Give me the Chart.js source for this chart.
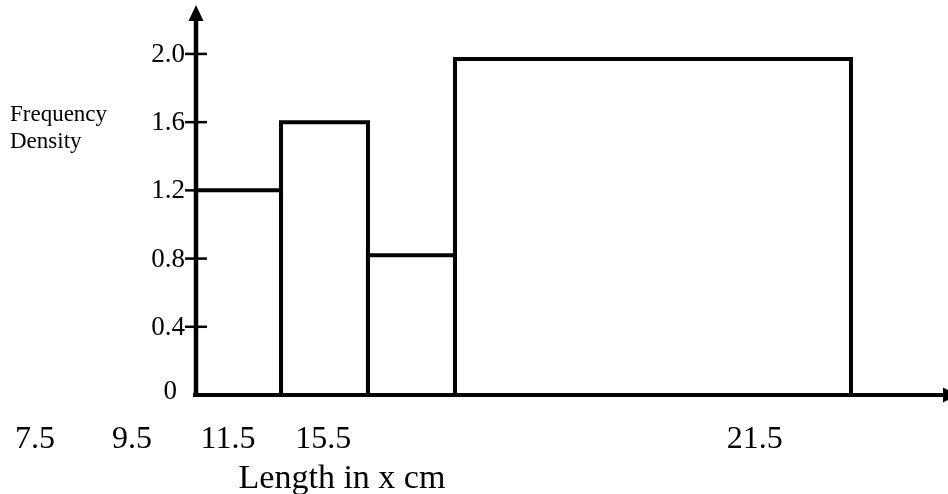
<!DOCTYPE html>
<html>
<head>
<meta charset="utf-8">
<script src="https://cdn.jsdelivr.net/npm/chart.js@4.4.1/dist/chart.umd.min.js"></script>
<style>
  html, body { margin: 0; padding: 0; background: #fff; }
  #wrap { width: 948px; height: 494px; }
</style>
</head>
<body>
<div id="wrap"><canvas id="histo"></canvas></div>
<script>
// bar edges in drawing units along the x axis (first bar ~ 1 unit wide)
var binEdges = [0, 0.983, 1.988, 2.994, 7.572];
var density = [1.2, 1.6, 0.82, 1.97];

// x labels as printed under the axis, and where they sit
var xLabels = ['7.5', '9.5', '11.5', '15.5', '21.5'];
var xLabelPos = [-1.86, -0.74, 0.37, 1.47, 6.46];

var yTicks = [0, 0.4, 0.8, 1.2, 1.6, 2.0];
var yTickLabels = ['0', '0.4', '0.8', '1.2', '1.6', '2.0'];

var xTitle = 'Length in x cm';
var yTitle = ['Frequency', 'Density'];

var serif = '"Liberation Serif", "Times New Roman", serif';

// one outline dataset per bar
var datasets = [];
for (var i = 0; i < density.length; i++) {
    datasets.push({
        data: [
            {x: binEdges[i], y: 0},
            {x: binEdges[i], y: density[i]},
            {x: binEdges[i + 1], y: density[i]},
            {x: binEdges[i + 1], y: 0}
        ],
        borderColor: '#000',
        borderWidth: 4,
        pointRadius: 0,
        fill: false,
        tension: 0,
        borderJoinStyle: 'miter'
    });
}

function putText(ctx, txt, x, y, align) {
    ctx.textAlign = align;
    ctx.textBaseline = 'alphabetic';
    ctx.fillText(txt, x, y);
}

var axesPlugin = {
    id: 'handAxes',
    afterDatasetsDraw: function(chart) {
        var ctx = chart.ctx;
        var xs = chart.scales.x, ys = chart.scales.y;
        var x0 = xs.getPixelForValue(0);
        var y0 = ys.getPixelForValue(0);
        ctx.save();
        ctx.strokeStyle = '#000';
        ctx.fillStyle = '#000';

        // y axis with arrow
        ctx.lineWidth = 4.5;
        ctx.beginPath();
        ctx.moveTo(x0, y0 + 1);
        ctx.lineTo(x0, 18);
        ctx.stroke();
        ctx.beginPath();
        ctx.moveTo(x0, 5);
        ctx.lineTo(x0 - 7.5, 21);
        ctx.lineTo(x0 + 7.5, 21);
        ctx.closePath();
        ctx.fill();

        // x axis with arrow
        ctx.lineWidth = 4;
        ctx.beginPath();
        ctx.moveTo(x0 - 3, y0);
        ctx.lineTo(945, y0);
        ctx.stroke();
        ctx.beginPath();
        ctx.moveTo(958, y0);
        ctx.lineTo(943, y0 - 7.5);
        ctx.lineTo(943, y0 + 7.5);
        ctx.closePath();
        ctx.fill();

        // y ticks and labels
        ctx.font = '27px ' + serif;
        ctx.lineWidth = 2.5;
        yTicks.forEach(function(v, k) {
            var py = ys.getPixelForValue(v);
            if (v !== 0) {
                ctx.beginPath();
                ctx.moveTo(x0 - 11, py);
                ctx.lineTo(x0 + 11, py);
                ctx.stroke();
                putText(ctx, yTickLabels[k], x0 - 11, py + 8, 'right');
            } else {
                putText(ctx, yTickLabels[k], x0 - 19, py + 4, 'right');
            }
        });

        // x labels
        ctx.font = '32px ' + serif;
        xLabels.forEach(function(t, k) {
            putText(ctx, t, xs.getPixelForValue(xLabelPos[k]), 448, 'center');
        });

        // titles
        ctx.font = '34px ' + serif;
        putText(ctx, xTitle, 342, 488, 'center');
        ctx.font = '23px ' + serif;
        putText(ctx, yTitle[0], 10, 121, 'left');
        putText(ctx, yTitle[1], 10, 148, 'left');
        ctx.restore();
    }
};

new Chart(document.getElementById('histo'), {
    type: 'line',
    data: {datasets: datasets},
    options: {
        responsive: true,
        maintainAspectRatio: false,
        animation: false,
        layout: {padding: {left: 196, right: 3, top: 5, bottom: 99}},
        plugins: {legend: {display: false}, tooltip: {enabled: false}},
        scales: {
            x: {type: 'linear', display: false, min: 0, max: 8.659},
            y: {type: 'linear', display: false, min: 0, max: 2.287}
        }
    },
    plugins: [axesPlugin]
});
</script>
</body>
</html>
